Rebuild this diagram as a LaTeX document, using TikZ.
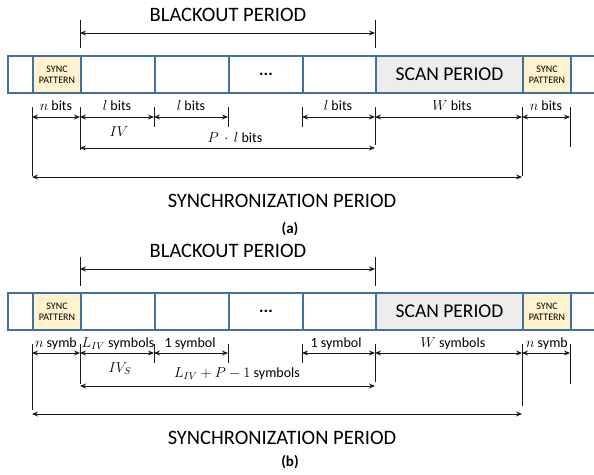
\documentclass[tikz,border=0pt]{standalone}
\usepackage{fontspec}
\setmainfont{Carlito}
\usetikzlibrary{arrows.meta}
\definecolor{cellblue}{HTML}{41719C}
\definecolor{syncfill}{HTML}{FFF2CC}
\definecolor{scanfill}{HTML}{EDEDED}
\definecolor{dimcol}{HTML}{1A1A1A}
\begin{document}
\begin{tikzpicture}[x=1pt,y=-1pt,
  cell/.style={draw=cellblue, line width=2pt, inner sep=0pt, anchor=north west, minimum height=37pt},
  syncc/.style={cell, fill=syncfill, font=\fontsize{10}{11}\selectfont, align=center},
  scanc/.style={cell, fill=scanfill, font=\fontsize{19.5}{21}\selectfont},
  dotsc/.style={cell, font=\fontsize{17}{18}\selectfont\bfseries},
  title/.style={font=\fontsize{20.5}{22}\selectfont, anchor=base, inner sep=0pt},
  caption/.style={font=\fontsize{15}{17}\selectfont\bfseries, anchor=base, inner sep=0pt},
  lbl/.style={font=\fontsize{14}{16}\selectfont, anchor=base, inner sep=0pt},
  tickline/.style={draw=dimcol, line width=0.9pt},
  dimarrow/.style={draw=dimcol, line width=0.9pt, {Stealth[length=6pt,width=5pt]}-{Stealth[length=6pt,width=5pt]}}
]
\useasboundingbox (0,0) rectangle (594,474);

% ================= panel (a) =================
\node[title] (aBT) at (228,21) {BLACKOUT PERIOD};
\coordinate (aBLt) at (80,20); \coordinate (aBLb) at (80,48);
\coordinate (aBRt) at (375,20); \coordinate (aBRb) at (375,48);
\coordinate (aBL) at (80,33); \coordinate (aBR) at (375,33);
\draw[tickline] (aBLt) -- (aBLb);
\draw[tickline] (aBRt) -- (aBRb);
\draw[dimarrow] (aBL) -- (aBR);

\node[cell, minimum width=25pt] (a0) at (7,55) {};
\node[syncc, minimum width=48pt] (aS1) at (32,55) {SYNC\\PATTERN};
\node[cell, minimum width=74pt] (a1) at (80,55) {};
\node[cell, minimum width=74pt] (a2) at (154,55) {};
\node[dotsc, minimum width=74pt] (a3) at (228,55) {...};
\node[cell, minimum width=73pt] (a4) at (302,55) {};
\node[scanc, minimum width=147pt] (aW) at (375,55) {SCAN PERIOD};
\node[syncc, minimum width=48pt] (aS2) at (522,55) {SYNC\\PATTERN};
\node[cell, minimum width=40pt] (a5) at (570,55) {};

% ticks
\foreach \x/\b/\n in {32/176/A,80/150/B,154/127/C,228/127/D,302/127/E,375/145/F,522/176/G,570/147/H}{
  \coordinate (at\n) at (\x,107);
  \coordinate (ab\n) at (\x,\b);
  \draw[tickline] (at\n) -- (ab\n);
}
\foreach \n in {A,B,C,D,E,F,G,H}{\coordinate (ar\n) at (at\n |- 0,117);}
\draw[dimarrow] (arA) -- (arB);
\draw[dimarrow] (arB) -- (arC);
\draw[dimarrow] (arC) -- (arD);
\draw[dimarrow] (arE) -- (arF);
\draw[dimarrow] (arF) -- (arG);
\draw[dimarrow] (arG) -- (arH);
\coordinate (aPL) at (80,148); \coordinate (aPR) at (375,148);
\draw[dimarrow] (aPL) -- (aPR);
\coordinate (aSL) at (32,177); \coordinate (aSR) at (522,177);
\draw[dimarrow] (aSL) -- (aSR);

\node[lbl] (al1) at (56,110) {$n$ bits};
\node[lbl] (al2) at (117,110) {$l$ bits};
\node[lbl] (al3) at (191,110) {$l$ bits};
\node[lbl] (al4) at (338,110) {$l$ bits};
\node[lbl] (al5) at (452,110) {$W$ bits};
\node[lbl] (al6) at (546,110) {$n$ bits};
\node[lbl] (aIV) at (119,136) {$IV$};
\node[lbl] (aPl) at (235,142) {$P\,\cdot\,l$ bits};
\node[title] (aST) at (282,207) {SYNCHRONIZATION PERIOD};
\node[caption] (aCap) at (290,233) {(a)};

% ================= panel (b) =================
\begin{scope}[shift={(0,237)}]
\node[title] (bBT) at (228,20) {BLACKOUT PERIOD};
\coordinate (bBLt) at (80,20); \coordinate (bBLb) at (80,49);
\coordinate (bBRt) at (375,20); \coordinate (bBRb) at (375,49);
\coordinate (bBL) at (80,32); \coordinate (bBR) at (375,32);
\draw[tickline] (bBLt) -- (bBLb);
\draw[tickline] (bBRt) -- (bBRb);
\draw[dimarrow] (bBL) -- (bBR);

\node[cell, minimum width=25pt] (b0) at (7,55) {};
\node[syncc, minimum width=48pt] (bS1) at (32,55) {SYNC\\PATTERN};
\node[cell, minimum width=74pt] (b1) at (80,55) {};
\node[cell, minimum width=74pt] (b2) at (154,55) {};
\node[dotsc, minimum width=74pt] (b3) at (228,55) {...};
\node[cell, minimum width=73pt] (b4) at (302,55) {};
\node[scanc, minimum width=147pt] (bW) at (375,55) {SCAN PERIOD};
\node[syncc, minimum width=48pt] (bS2) at (522,55) {SYNC\\PATTERN};
\node[cell, minimum width=40pt] (b5) at (570,55) {};

\foreach \x/\b/\n in {32/173/A,80/147/B,154/126/C,228/126/D,302/126/E,375/145/F,522/169/G,570/147/H}{
  \coordinate (bt\n) at (\x,107);
  \coordinate (bb\n) at (\x,\b);
  \draw[tickline] (bt\n) -- (bb\n);
}
\foreach \n in {A,B,C,D,E,F,G,H}{\coordinate (br\n) at (bt\n |- 0,116);}
\draw[dimarrow] (brA) -- (brB);
\draw[dimarrow] (brB) -- (brC);
\draw[dimarrow] (brC) -- (brD);
\draw[dimarrow] (brE) -- (brF);
\draw[dimarrow] (brF) -- (brG);
\draw[dimarrow] (brG) -- (brH);
\coordinate (bPL) at (80,149); \coordinate (bPR) at (375,149);
\draw[dimarrow] (bPL) -- (bPR);
\coordinate (bSL) at (32,177); \coordinate (bSR) at (522,177);
\draw[dimarrow] (bSL) -- (bSR);

\node[lbl] (bl1) at (56,110) {$n$ symb};
\node[lbl] (bl2) at (118,110) {$L_{IV}$ symbols};
\node[lbl] (bl3) at (190,110) {1 symbol};
\node[lbl] (bl4) at (336,110) {1 symbol};
\node[lbl] (bl5) at (453,110) {$W$ symbols};
\node[lbl] (bl6) at (547,110) {$n$ symb};
\node[lbl] (bIV) at (120,135) {$IV_S$};
\node[lbl] (bPl) at (237,140) {$L_{IV}+P-1$ symbols};
\node[title] (bST) at (282,207) {SYNCHRONIZATION PERIOD};
\node[caption] (bCap) at (290,229) {(b)};
\end{scope}
\end{tikzpicture}
\end{document}
